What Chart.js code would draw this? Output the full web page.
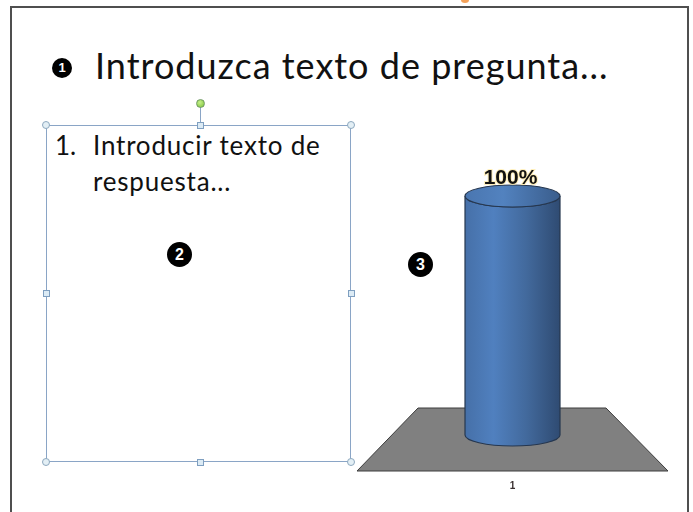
<!DOCTYPE html>
<html>
<head>
<meta charset="utf-8">
<script src="https://cdn.jsdelivr.net/npm/chart.js@4"></script>
<style>
  html, body { margin:0; padding:0; background:#fff; width:693px; height:512px; overflow:hidden; position:relative; font-family:Lato, "Open Sans", sans-serif; }
  .slide { position:absolute; left:10px; top:6px; width:679px; height:520px; box-sizing:border-box; border:2px solid #4f4f4f; border-bottom:none; }
  .orange { position:absolute; left:461px; top:-3px; width:8px; height:6px; border-radius:50%; background:#f4a25a; }
  .title { position:absolute; left:95px; top:45px; font-size:36px; line-height:40px; letter-spacing:1px; color:#111; white-space:nowrap; }
  .num { position:absolute; border-radius:50%; background:#000; color:#fff; font-family:"Liberation Sans", Arial, sans-serif; font-weight:bold; text-align:center; }
  .box { position:absolute; left:46px; top:125px; width:305px; height:337px; border:1px solid #8aa5c6; box-sizing:border-box; }
  .answer { position:absolute; left:55px; top:127px; font-size:26px; line-height:36px; letter-spacing:0.8px; color:#111; white-space:nowrap; }
  .answer .n { display:inline-block; width:38px; letter-spacing:0; }
  .hc { position:absolute; width:8px; height:8px; border-radius:50%; background:#e3eff5; border:1px solid #8ea9bf; box-sizing:border-box; }
  .hs { position:absolute; width:7px; height:7px; background:#dcebf5; border:1px solid #7f9fc0; box-sizing:border-box; }
  .rot { position:absolute; left:196px; top:99px; width:9px; height:9px; border-radius:50%; background:radial-gradient(circle at 40% 35%, #c6f08a, #7cc23a); border:1px solid #6f9a62; box-sizing:border-box; }
  .rotline { position:absolute; left:200px; top:107px; width:1px; height:15px; background:#8aa5c6; }
  #wrap { position:absolute; left:350px; top:150px; width:330px; height:362px; }
</style>
</head>
<body>
<div class="slide"></div>
<div class="orange"></div>

<div class="num" style="left:52px;top:58px;width:20px;height:20px;line-height:20px;font-size:13px;">1</div>
<div class="title">Introduzca texto de pregunta...</div>

<div class="box"></div>
<div class="rotline"></div>
<div class="rot"></div>
<div class="hc" style="left:42px;top:121px;"></div>
<div class="hc" style="left:347px;top:121px;"></div>
<div class="hc" style="left:42px;top:458px;"></div>
<div class="hc" style="left:347px;top:458px;"></div>
<div class="hs" style="left:197px;top:122px;"></div>
<div class="hs" style="left:197px;top:459px;"></div>
<div class="hs" style="left:43px;top:290px;"></div>
<div class="hs" style="left:348px;top:290px;"></div>
<div class="answer"><span class="n">1.</span>Introducir texto de<br><span class="n"></span>respuesta...</div>

<div class="num" style="left:167px;top:242px;width:25px;height:25px;line-height:25px;font-size:16px;">2</div>
<div class="num" style="left:408px;top:252px;width:25px;height:25px;line-height:25px;font-size:16px;">3</div>

<div id="wrap"><canvas id="c" width="330" height="362"></canvas></div>

<script>
const categories = ['1'];
const values = [100];
const valueLabels = ['100%'];

const cylinderPlugin = {
  id: 'cylinder3d',
  beforeDatasetsDraw(chart) {
    const ctx = chart.ctx;
    const a = chart.chartArea;
    const bar = chart.getDatasetMeta(0).data[0];
    const base = bar.base;
    ctx.save();
    ctx.beginPath();
    ctx.moveTo(a.left + 61, base - 27);
    ctx.lineTo(a.right - 62, base - 27);
    ctx.lineTo(a.right, base + 36);
    ctx.lineTo(a.left, base + 36);
    ctx.closePath();
    ctx.fillStyle = '#808080';
    ctx.fill();
    ctx.strokeStyle = '#3c3c3c';
    ctx.lineWidth = 1;
    ctx.stroke();
    ctx.restore();
  },
  afterDatasetsDraw(chart) {
    const ctx = chart.ctx;
    const meta = chart.getDatasetMeta(0);
    meta.data.forEach((bar, i) => {
      const x = bar.x, top = bar.y, base = bar.base;
      const rx = bar.width / 2, ry = 11;
      ctx.save();
      const g = ctx.createLinearGradient(x - rx, 0, x + rx, 0);
      g.addColorStop(0, '#4670a8');
      g.addColorStop(0.3, '#5080bf');
      g.addColorStop(0.65, '#42699c');
      g.addColorStop(1, '#2f4b72');
      ctx.beginPath();
      ctx.moveTo(x - rx, top);
      ctx.lineTo(x - rx, base);
      ctx.ellipse(x, base, rx, ry, 0, Math.PI, 0, true);
      ctx.lineTo(x + rx, top);
      ctx.ellipse(x, top, rx, ry, 0, 0, Math.PI, false);
      ctx.closePath();
      ctx.fillStyle = g;
      ctx.fill();
      ctx.strokeStyle = '#26374f';
      ctx.lineWidth = 1.2;
      ctx.stroke();
      const g2 = ctx.createLinearGradient(x - rx, 0, x + rx, 0);
      g2.addColorStop(0, '#4a76b0');
      g2.addColorStop(0.4, '#5282bf');
      g2.addColorStop(1, '#3a5d8c');
      ctx.beginPath();
      ctx.ellipse(x, top, rx, ry, 0, 0, Math.PI * 2);
      ctx.fillStyle = g2;
      ctx.fill();
      ctx.stroke();
      ctx.font = 'bold 21px "Liberation Sans", Arial, sans-serif';
      ctx.textAlign = 'center';
      ctx.textBaseline = 'alphabetic';
      ctx.lineWidth = 2;
      ctx.strokeStyle = 'rgba(255,235,170,0.8)';
      ctx.strokeText(valueLabels[i], x - 2, top - ry - 1);
      ctx.fillStyle = '#111';
      ctx.fillText(valueLabels[i], x - 2, top - ry - 1);
      ctx.restore();
    });
  }
};

new Chart(document.getElementById('c'), {
  type: 'bar',
  data: {
    labels: categories,
    datasets: [{
      data: values,
      backgroundColor: 'rgba(0,0,0,0)',
      borderWidth: 0,
      barThickness: 95
    }]
  },
  options: {
    responsive: false,
    animation: false,
    layout: { padding: { left: 7, right: 12, top: 46, bottom: 15 } },
    plugins: { legend: { display: false }, tooltip: { enabled: false } },
    scales: {
      x: {
        grid: { display: false, drawTicks: false },
        border: { display: false },
        ticks: { padding: 45, color: '#3a3030', font: { size: 10, weight: 'bold', family: '"Liberation Sans", Arial, sans-serif' } },
        afterFit(s) { s.height = 62; }
      },
      y: { display: false, min: 0, max: 100 }
    }
  },
  plugins: [cylinderPlugin]
});
</script>
</body>
</html>
